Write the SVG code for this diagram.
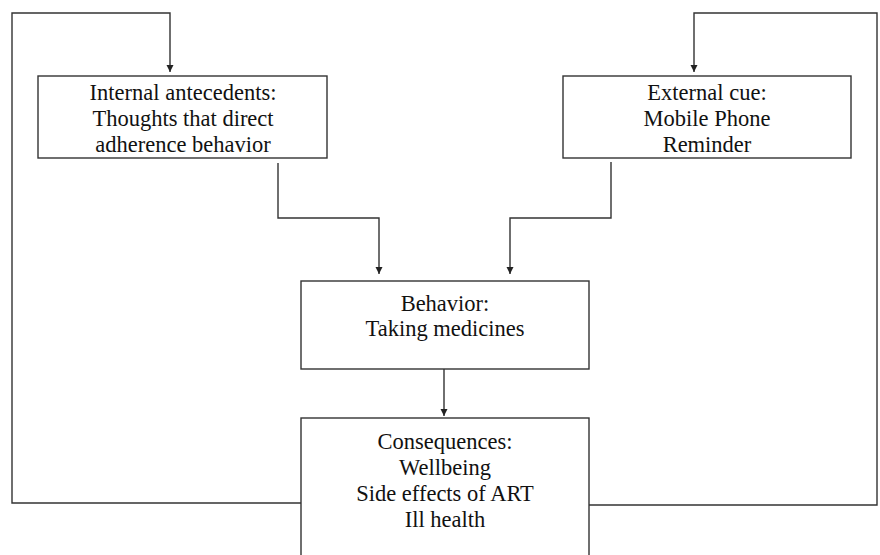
<svg xmlns="http://www.w3.org/2000/svg" width="880" height="555" viewBox="0 0 880 555">
<style>
.box{fill:#fff;stroke:#333;stroke-width:1.4}
.ln{fill:none;stroke:#333;stroke-width:1.4}
text{font-family:"Liberation Serif","Times New Roman",serif;font-size:22.5px;fill:#111;text-anchor:middle}
</style>
<defs>
<marker id="ah" viewBox="0 0 10 10" refX="10" refY="5" markerWidth="7" markerHeight="9" markerUnits="userSpaceOnUse" orient="auto">
<path d="M0,0 L10,5 L0,10 z" fill="#222"/>
</marker>
</defs>
<rect width="880" height="555" fill="#fff"/>
<g id="connectors">
<polyline class="ln" points="301,503 12,503 12,13 170,13 170,72" marker-end="url(#ah)"/>
<polyline class="ln" points="589,505 877,505 877,13 694,13 694,72" marker-end="url(#ah)"/>
<polyline class="ln" points="278,163 278,218 379,218 379,274" marker-end="url(#ah)"/>
<polyline class="ln" points="611,162 611,218 510,218 510,274" marker-end="url(#ah)"/>
<polyline class="ln" points="444,369 444,416" marker-end="url(#ah)"/>
</g>
<g id="internal">
<rect class="box" x="38" y="76" width="289" height="82"/>
<text x="183" y="100">Internal antecedents:</text>
<text x="183" y="126">Thoughts that direct</text>
<text x="183" y="152">adherence behavior</text>
</g>
<g id="external">
<rect class="box" x="563" y="76" width="288" height="82"/>
<text x="707" y="100">External cue:</text>
<text x="707" y="126">Mobile Phone</text>
<text x="707" y="152">Reminder</text>
</g>
<g id="behavior">
<rect class="box" x="301" y="281" width="288" height="88"/>
<text x="445" y="311">Behavior:</text>
<text x="445" y="336">Taking medicines</text>
</g>
<g id="consequences">
<rect class="box" x="301" y="418" width="288" height="150"/>
<text x="445" y="449">Consequences:</text>
<text x="445" y="475">Wellbeing</text>
<text x="445" y="501">Side effects of ART</text>
<text x="445" y="527">Ill health</text>
</g>
</svg>
